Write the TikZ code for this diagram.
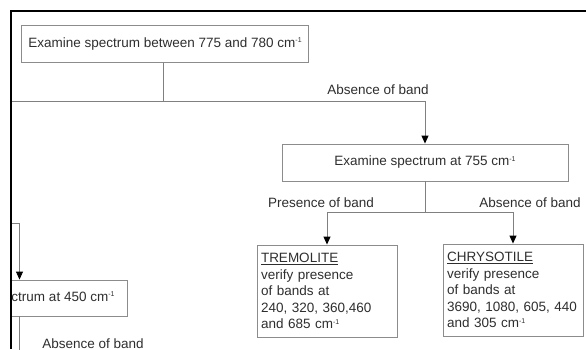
\documentclass[tikz,border=0pt]{standalone}
\usepackage{fontspec}
\setmainfont{Liberation Sans}
\usetikzlibrary{arrows.meta}
\definecolor{linegray}{HTML}{808080}
\definecolor{boxgray}{HTML}{8C8C8C}
\definecolor{textgray}{HTML}{2E2E2E}
\newcommand{\perCm}{cm\raisebox{4.5pt}{\fontsize{7}{7}\selectfont -1}}

\begin{document}
\begin{tikzpicture}[x=1pt, y=-1pt,
    every node/.style={font=\fontsize{13.5}{16.5}\selectfont, text=textgray},
    testbox/.style={draw=boxgray, line width=0.9pt, minimum height=37pt, inner sep=0pt},
    mineralbox/.style={draw=boxgray, line width=0.9pt, text width=132pt, minimum height=92pt,
        inner xsep=4pt, inner ysep=0pt, align=left},
    flow/.style={draw=linegray, line width=0.9pt},
    arrowflow/.style={flow, -{Triangle[width=7pt, length=8pt, color=black]}},
    bandlabel/.style={inner sep=0pt}]
    \useasboundingbox (0,0) rectangle (586,349);

    \begin{scope}
    \clip (11,11) rectangle (586,349);

    % Test boxes
    \node[testbox, minimum width=287pt] (box775) at (165,44) {Examine spectrum between 775 and 780 \perCm};
    \node[testbox, minimum width=286pt] (box755) at (425,162.5) {Examine spectrum at 755 \perCm};
    \node[testbox, minimum width=206pt, minimum height=36pt] (box450) at (24,298) {Examine spectrum at 450 \perCm};

    % Results
    \node[mineralbox] (tremolite) at (327,291) {\underline{TREMOLITE}\\verify presence\\of bands at\\240, 320, 360,460\\and 685 \perCm};
    \node[mineralbox] (chrysotile) at (513,290) {\underline{CHRYSOTILE}\\verify presence\\of bands at\\3690, 1080, 605, 440\\and 305 \perCm};

    % Branch points
    \coordinate (split775) at (163,101);
    \coordinate (leftend775) at (0,101);
    \coordinate (split755) at (425,212);
    \coordinate (leftend450) at (0,223);
    \coordinate (down450) at (19.5,360);

    % Connectors
    \draw[flow] (box775.south -| split775) -- (split775);
    \draw[flow] (split775) -- (leftend775);
    \draw[arrowflow] (split775) -| (box755.north);
    \draw[flow] (box755.south) -- (split755);
    \draw[arrowflow] (split755) -| (tremolite.north);
    \draw[arrowflow] (split755) -| (chrysotile.north);
    \draw[arrowflow] (leftend450) -| (box450.north -| down450);
    \draw[flow] (box450.south -| down450) -- (down450);

    % Labels
    \node[bandlabel] (absent775) at (378,90) {Absence of band};
    \node[bandlabel] (present755) at (321,203) {Presence of band};
    \node[bandlabel] (absent755) at (530,203) {Absence of band};
    \node[bandlabel] (absent450) at (93,344) {Absence of band};
    \end{scope}

    % Frame of the cut-out
    \draw[line width=2pt] (586,11) -- (11,11) -- (11,349);
\end{tikzpicture}
\end{document}
